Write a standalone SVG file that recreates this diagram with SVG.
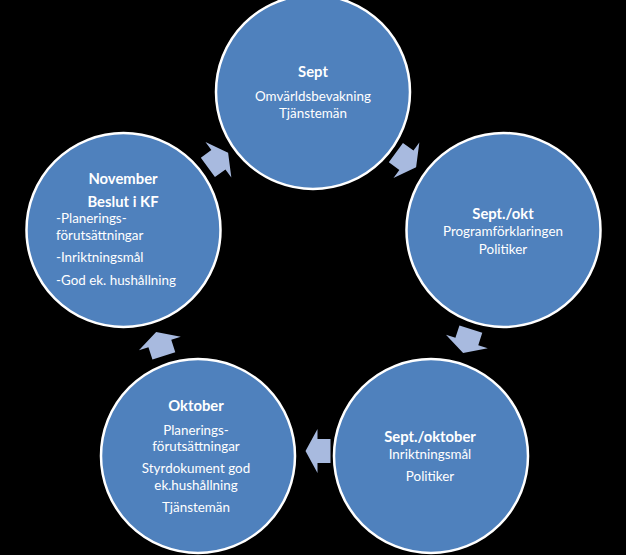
<svg xmlns="http://www.w3.org/2000/svg" width="626" height="555" viewBox="0 0 626 555">
<defs>
<style>
.c{fill:#4F81BD;stroke:#FFFFFF;stroke-width:2.5}
.a{fill:#A8BADF}
text{font-family:Lato,"Liberation Sans",sans-serif;fill:#FFFFFF;font-size:13.4px}
.t{font-weight:bold;font-size:14.8px}
.m{text-anchor:middle}
</style>
<path id="arr" d="M-12.5,-12 L0.5,-12 L0.5,-22 L12.5,0 L0.5,22 L0.5,12 L-12.5,12 Z"/>
</defs>
<rect width="626" height="555" fill="#000000"/>
<g id="connectors">
<use href="#arr" class="a" transform="translate(218,160) rotate(-36)"/>
<use href="#arr" class="a" transform="translate(406,160) rotate(36)"/>
<use href="#arr" class="a" transform="translate(467,341) rotate(108)"/>
<use href="#arr" class="a" transform="translate(318,451) rotate(180)"/>
<use href="#arr" class="a" transform="translate(160,344) rotate(252)"/>
</g>
<g id="sept">
<circle class="c" cx="313" cy="92" r="97"/>
<text class="t m" x="313" y="77">Sept</text>
<text class="m" x="313" y="101">Omvärldsbevakning</text>
<text class="m" x="313" y="118">Tjänstemän</text>
</g>
<g id="septokt">
<circle class="c" cx="503.5" cy="230" r="97"/>
<text class="t m" x="503" y="219">Sept./okt</text>
<text class="m" x="503" y="236">Programförklaringen</text>
<text class="m" x="503" y="254">Politiker</text>
</g>
<g id="septoktober">
<circle class="c" cx="431" cy="456" r="97"/>
<text class="t m" x="430" y="442">Sept./oktober</text>
<text class="m" x="430" y="459">Inriktningsmål</text>
<text class="m" x="430" y="481">Politiker</text>
</g>
<g id="oktober">
<circle class="c" cx="198" cy="456" r="97"/>
<text class="t m" x="196" y="411">Oktober</text>
<text class="m" x="196" y="435">Planerings-</text>
<text class="m" x="196" y="451">förutsättningar</text>
<text class="m" x="196" y="473">Styrdokument god</text>
<text class="m" x="196" y="490">ek.hushållning</text>
<text class="m" x="196" y="512">Tjänstemän</text>
</g>
<g id="november">
<circle class="c" cx="123.5" cy="230" r="97"/>
<text class="t m" x="123" y="184">November</text>
<text class="t m" x="123" y="207">Beslut i KF</text>
<text x="56" y="223">-Planerings-</text>
<text x="56" y="240">förutsättningar</text>
<text x="56" y="262">-Inriktningsmål</text>
<text x="56" y="285">-God ek. hushållning</text>
</g>
</svg>
